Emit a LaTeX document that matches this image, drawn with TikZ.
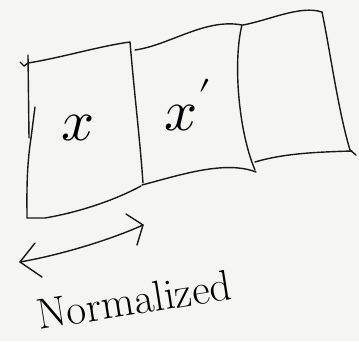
\documentclass[tikz,border=0pt]{standalone}
\usepackage{fontspec}
\usepackage{unicode-math}
\setmathfont{Latin Modern Math}
\usetikzlibrary{calc}
\definecolor{paper}{HTML}{F5F6F1}

\begin{document}
\begin{tikzpicture}[
    x=1pt, y=-1pt,
    pen/.style={line width=1.4pt, line cap=round, line join=round, draw=black!90},
    letter/.style={font=\fontsize{58}{64}\selectfont},
    caption/.style={font=\fontsize{43}{48}\selectfont, rotate=9},
]

\fill[paper] (0,0) rectangle (359,341);
\useasboundingbox (0,0) rectangle (359,341);

% Box 1
\draw[pen] (20,62) -- (24,66) -- (28,63) .. controls (60,58) and (100,46) .. (130,42);
\draw[pen] (28,55) -- (29,138);
\draw[pen] (35,107) -- (31,138);
\draw[pen] (31,138) .. controls (26,170) and (27,200) .. (27,218);
\draw[pen] (27,218) -- (45,218) .. controls (80,212) and (115,200) .. (141,186);
\draw[pen] (130,42) .. controls (134,90) and (140,140) .. (143,183);

% Box 2
\draw[pen] (135,50) .. controls (170,45) and (205,18) .. (242,25);
\draw[pen] (142,185) .. controls (180,175) and (225,160) .. (256,172);
\draw[pen] (242,25) .. controls (233,60) and (238,130) .. (255,170);

% Box 3
\draw[pen] (243,25) .. controls (270,20) and (300,5) .. (322,12);
\draw[pen] (322,12) .. controls (330,50) and (338,110) .. (350,150) -- (356,155);
\draw[pen] (255,162) .. controls (285,153) and (320,152) .. (352,151);

% Labels
\node[letter] (xa) at (78,128) {$x$};
\node[letter] (xb) at (188,105) {$x'$};

% Double arrow
\coordinate (lefttip) at (20,262);
\coordinate (righttip) at (143,225);
\draw[pen] (lefttip) .. controls (60,255) and (110,240) .. (righttip);
\draw[pen] (35,243) -- (lefttip) -- (42,277);
\draw[pen] (126,214) -- (righttip) -- (137,245);

\node[caption] (norm) at (134,300) {Normalized};

\end{tikzpicture}
\end{document}
